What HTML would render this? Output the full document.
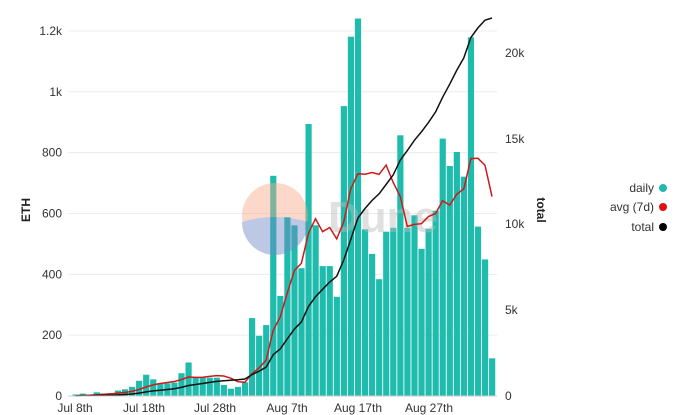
<!DOCTYPE html>
<html><head><meta charset="utf-8"><style>
html,body{margin:0;padding:0;background:#fff;width:686px;height:415px;overflow:hidden}
svg{display:block;font-family:"Liberation Sans",sans-serif}
</style></head><body>
<svg id="c" width="686" height="415" xmlns="http://www.w3.org/2000/svg"></svg>
<script>
var d=[5,8,5,12,8,10,18,22,30,50,70,55,42,42,44,75,110,60,60,60,60,36,24,30,45,256,198,233,724,329,588,561,420,894,561,427,427,326,953,1181,1241,548,467,384,540,553,857,553,594,484,550,609,846,756,802,721,1179,557,449,124];
var s='';
function yL(v){return 396-v*0.3042;}
var sum=0;for(var i=0;i<d.length;i++)sum+=d[i];
var kR=(396-18)/sum;
function yR(v){return 396-v*kR;}
var lt=[[0,'0'],[200,'200'],[400,'400'],[600,'600'],[800,'800'],[1000,'1k'],[1200,'1.2k']];
lt.forEach(function(t){var y=yL(t[0]);s+='<line x1="68" x2="497" y1="'+y+'" y2="'+y+'" stroke="#ececec" stroke-width="1"/>';s+='<text x="62" y="'+(y+4)+'" font-size="12" fill="#333" text-anchor="end">'+t[1]+'</text>';});
var rt=[[0,'0',396],[5,'5k',310],[10,'10k',224],[15,'15k',139],[20,'20k',53]];
rt.forEach(function(t){s+='<text x="505" y="'+(t[2]+4)+'" font-size="12" fill="#333">'+t[1]+'</text>';});
for(var i=0;i<d.length;i++){var x=72.5+7.06*i;var y=yL(d[i]);s+='<rect x="'+x.toFixed(2)+'" y="'+y.toFixed(1)+'" width="6.2" height="'+(396-y).toFixed(1)+'" fill="#1fbcae"/>';}
// watermark on top
s+='<g opacity="0.45"><circle cx="275" cy="216" r="33" fill="#f7a988"/>';
s+='<path d="M242,222 Q275,212 308,222 A33,33 0 0 1 242,222Z" fill="#6f86c4"/>';
s+='<text x="328" y="232" font-size="44" font-weight="bold" fill="#bbb">Dune</text></g>';
var pr='',pb='',c=0;
for(var i=0;i<d.length;i++){var x=75.5+7.06*i;var a=0;for(var j=Math.max(0,i-6);j<=i;j++){a+=d[j];}a/=7;c+=d[i];pr+=(i?'L':'M')+x.toFixed(1)+','+yL(a).toFixed(1);pb+=(i?'L':'M')+x.toFixed(1)+','+yR(c).toFixed(1);}
s+='<path d="'+pr+'" fill="none" stroke="#cc1a1a" stroke-width="1.5"/>';
s+='<path d="'+pb+'" fill="none" stroke="#111" stroke-width="1.5"/>';
s+='<line x1="68" x2="497" y1="396" y2="396" stroke="#ccc"/>';
var xl=[[75,'Jul 8th'],[144,'Jul 18th'],[215,'Jul 28th'],[287,'Aug 7th'],[358,'Aug 17th'],[429,'Aug 27th']];
xl.forEach(function(t){s+='<text x="'+t[0]+'" y="412" font-size="12" fill="#333" text-anchor="middle">'+t[1]+'</text>';});
s+='<text transform="translate(30,210) rotate(-90)" font-size="12" font-weight="bold" fill="#222" text-anchor="middle">ETH</text>';
s+='<text transform="translate(537,210) rotate(90)" font-size="12" font-weight="bold" fill="#222" text-anchor="middle">total</text>';
var lg=[[188,'daily','#1fbcae'],[207,'avg (7d)','#dd1111'],[227,'total','#000']];
lg.forEach(function(t){s+='<text x="654" y="'+(t[0]+4)+'" font-size="12" fill="#333" text-anchor="end">'+t[1]+'</text><circle cx="663" cy="'+t[0]+'" r="4" fill="'+t[2]+'"/>';});
document.getElementById('c').innerHTML=s;
</script>
</body></html>
